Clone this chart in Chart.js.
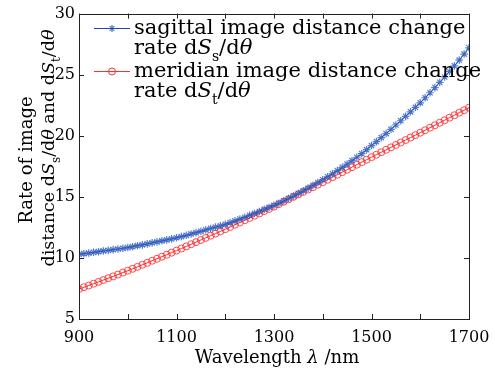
<!DOCTYPE html>
<html>
<head>
<meta charset="utf-8">
<script src="https://cdn.jsdelivr.net/npm/chart.js@4.4.0/dist/chart.umd.min.js"></script>
<style>
  html, body { margin: 0; padding: 0; background: #fff; }
  canvas { display: block; }
</style>
</head>
<body>
<canvas id="myChart" width="495" height="372"></canvas>
<script>
'use strict';

// wavelength in nm, 10 nm step
let wavelength = [];
for (let w = 900; w <= 1700; w += 10) {
  wavelength.push(w);
}

let sagittal = [
  10.30, 10.35, 10.40, 10.46, 10.51, 10.57, 10.62, 10.68, 10.73, 10.79,
  10.85, 10.92, 11.00, 11.07, 11.15, 11.23, 11.31, 11.40, 11.48, 11.56,
  11.65, 11.75, 11.85, 11.96, 12.07, 12.18, 12.30, 12.41, 12.52, 12.63,
  12.75, 12.89, 13.03, 13.18, 13.33, 13.49, 13.64, 13.80, 13.97, 14.13,
  14.30, 14.48, 14.67, 14.87, 15.07, 15.28, 15.49, 15.71, 15.94, 16.17,
  16.40, 16.64, 16.89, 17.15, 17.41, 17.68, 17.96, 18.24, 18.53, 18.86,
  19.20, 19.52, 19.85, 20.18, 20.53, 20.88, 21.23, 21.59, 21.96, 22.33,
  22.70, 23.11, 23.52, 23.94, 24.37, 24.81, 25.26, 25.72, 26.19, 26.69,
  27.20
];

let meridian = [
  7.45, 7.60, 7.74, 7.89, 8.04, 8.19, 8.34, 8.49, 8.64, 8.80,
  8.95, 9.11, 9.27, 9.44, 9.60, 9.77, 9.93, 10.10, 10.26, 10.43,
  10.60, 10.77, 10.94, 11.12, 11.29, 11.47, 11.64, 11.82, 11.99, 12.17,
  12.35, 12.53, 12.72, 12.90, 13.09, 13.27, 13.46, 13.64, 13.83, 14.01,
  14.20, 14.40, 14.60, 14.80, 15.00, 15.20, 15.40, 15.60, 15.80, 16.00,
  16.20, 16.40, 16.61, 16.81, 17.02, 17.22, 17.43, 17.63, 17.84, 18.04,
  18.25, 18.45, 18.65, 18.85, 19.05, 19.25, 19.45, 19.65, 19.85, 20.05,
  20.25, 20.45, 20.66, 20.86, 21.07, 21.27, 21.48, 21.68, 21.89, 22.09,
  22.30
];

let xTicks = [900, 1000, 1100, 1200, 1300, 1400, 1500, 1600, 1700];
let xLabels = [900, 1100, 1300, 1500, 1700];
let yTicks = [5, 10, 15, 20, 25, 30];

let blue = 'rgb(30, 75, 170)';
let red = 'rgb(255, 45, 45)';
let FONT = '"DejaVu Serif", "Liberation Serif", serif';

function toPoints(ys) {
  return ys.map((y, i) => ({ x: wavelength[i], y: y }));
}

// draws text made of pieces: {t, it (italic), sub (subscript)}
function fontOf(p, size) {
  let s = p.sub ? Math.round(size * 0.68) : size;
  return (p.it ? 'italic ' : '') + s + 'px ' + FONT;
}
function richWidth(ctx, parts, size) {
  let w = 0;
  parts.forEach(p => { ctx.font = fontOf(p, size); w += ctx.measureText(p.t).width; });
  return w;
}
function drawRich(ctx, parts, x, y, size, center) {
  let cx = center ? x - richWidth(ctx, parts, size) / 2 : x;
  parts.forEach(p => {
    ctx.font = fontOf(p, size);
    ctx.fillText(p.t, cx, y + (p.sub ? size * 0.32 : 0));
    cx += ctx.measureText(p.t).width;
  });
}

function dS(sub) {
  return [{ t: 'd' }, { t: 'S', it: true }, { t: sub, sub: true }, { t: '/d' }, { t: 'θ', it: true }];
}

function drawStar(ctx, x, y, color) {
  let r = 3.5;
  ctx.save();
  ctx.strokeStyle = color;
  ctx.beginPath();
  for (let i = 0; i < 4; i++) {
    let ang = i * Math.PI / 4;
    ctx.moveTo(x - r * Math.cos(ang), y - r * Math.sin(ang));
    ctx.lineTo(x + r * Math.cos(ang), y + r * Math.sin(ang));
  }
  ctx.stroke();
  ctx.restore();
}

let framePlugin = {
  id: 'frame',
  afterDatasetsDraw(chart) {
    let ctx = chart.ctx;
    let a = chart.chartArea;
    let sx = chart.scales.x;
    let sy = chart.scales.y;
    ctx.save();
    ctx.strokeStyle = '#222';
    ctx.lineWidth = 1;
    ctx.strokeRect(Math.round(a.left) + 0.5, Math.round(a.top) + 0.5,
      Math.round(a.right - a.left), Math.round(a.bottom - a.top));
    ctx.beginPath();
    xTicks.forEach(v => {
      let px = Math.round(sx.getPixelForValue(v)) + 0.5;
      ctx.moveTo(px, a.bottom); ctx.lineTo(px, a.bottom - 5);
      ctx.moveTo(px, a.top); ctx.lineTo(px, a.top + 5);
    });
    yTicks.forEach(v => {
      let py = Math.round(sy.getPixelForValue(v)) + 0.5;
      ctx.moveTo(a.left, py); ctx.lineTo(a.left + 5, py);
      ctx.moveTo(a.right, py); ctx.lineTo(a.right - 5, py);
    });
    ctx.stroke();
    ctx.restore();
  },
  afterDraw(chart) {
    let ctx = chart.ctx;
    ctx.save();
    ctx.fillStyle = '#000';
    ctx.textBaseline = 'alphabetic';

    // legend
    let lx = 94, tx = 134, size = 21;
    ctx.lineWidth = 1;
    ctx.strokeStyle = blue;
    ctx.beginPath(); ctx.moveTo(lx, 28.5); ctx.lineTo(lx + 36, 28.5); ctx.stroke();
    drawStar(ctx, lx + 18, 28.5, blue);
    ctx.strokeStyle = red;
    ctx.beginPath(); ctx.moveTo(lx, 71.5); ctx.lineTo(lx + 36, 71.5); ctx.stroke();
    ctx.beginPath(); ctx.arc(lx + 18, 71.5, 3.5, 0, Math.PI * 2); ctx.stroke();

    drawRich(ctx, [{ t: 'sagittal image distance change' }], tx, 34, size);
    drawRich(ctx, [{ t: 'rate ' }].concat(dS('s')), tx, 54, size);
    drawRich(ctx, [{ t: 'meridian image distance change' }], tx, 77, size);
    drawRich(ctx, [{ t: 'rate ' }].concat(dS('t')), tx, 97, size);

    // x title
    drawRich(ctx, [{ t: 'Wavelength ' }, { t: 'λ', it: true }, { t: ' /nm' }], 277, 363, 18, true);

    // y title
    ctx.save();
    ctx.translate(32, 150);
    ctx.rotate(-Math.PI / 2);
    drawRich(ctx, [{ t: 'Rate of image' }], -10, 0, 18, true);
    drawRich(ctx, [{ t: 'distance ' }].concat(dS('s'), [{ t: ' and ' }], dS('t')), 2, 22, 17.5, true);
    ctx.restore();
    ctx.restore();
  }
};

let ctx = document.getElementById('myChart').getContext('2d');
let myChart = new Chart(ctx, {
  type: 'line',
  data: {
    datasets: [{
      label: 'sagittal image distance change rate dSs/dθ',
      data: toPoints(sagittal),
      borderColor: blue,
      backgroundColor: 'rgba(0,0,0,0)',
      borderWidth: 1,
      pointStyle: 'star',
      pointRadius: 3.8,
      pointBorderColor: 'rgba(45, 90, 190, 0.8)',
      pointBorderWidth: 1.2,
      tension: 0
    }, {
      label: 'meridian image distance change rate dSt/dθ',
      data: toPoints(meridian),
      borderColor: red,
      backgroundColor: 'rgba(0,0,0,0)',
      borderWidth: 1,
      pointStyle: 'circle',
      pointRadius: 3.5,
      pointBorderColor: 'rgba(255, 45, 45, 0.85)',
      pointBackgroundColor: 'rgba(0,0,0,0)',
      pointBorderWidth: 1,
      tension: 0
    }]
  },
  options: {
    responsive: false,
    animation: false,
    devicePixelRatio: 1,
    layout: { padding: { left: 0, top: 13, right: 26, bottom: 0 } },
    plugins: {
      legend: { display: false },
      tooltip: { enabled: false }
    },
    scales: {
      x: {
        type: 'linear',
        min: 900,
        max: 1700,
        afterFit: function (scale) {
          scale.height = 53;
          scale.paddingLeft = 0;
          scale.paddingRight = 0;
        },
        afterBuildTicks: function (scale) { scale.ticks = xTicks.map(v => ({ value: v })); },
        ticks: {
          autoSkip: false,
          maxRotation: 0,
          padding: 9,
          color: '#000',
          font: { family: FONT, size: 16 },
          callback: v => (xLabels.includes(v) ? String(v) : '')
        },
        grid: { display: false, drawTicks: false },
        border: { display: false }
      },
      y: {
        min: 5,
        max: 30,
        afterFit: function (scale) { scale.width = 79; },
        afterBuildTicks: function (scale) { scale.ticks = yTicks.map(v => ({ value: v })); },
        ticks: {
          padding: 4,
          color: '#000',
          font: { family: FONT, size: 16 }
        },
        grid: { display: false, drawTicks: false },
        border: { display: false }
      }
    }
  },
  plugins: [framePlugin]
});
</script>
</body>
</html>
